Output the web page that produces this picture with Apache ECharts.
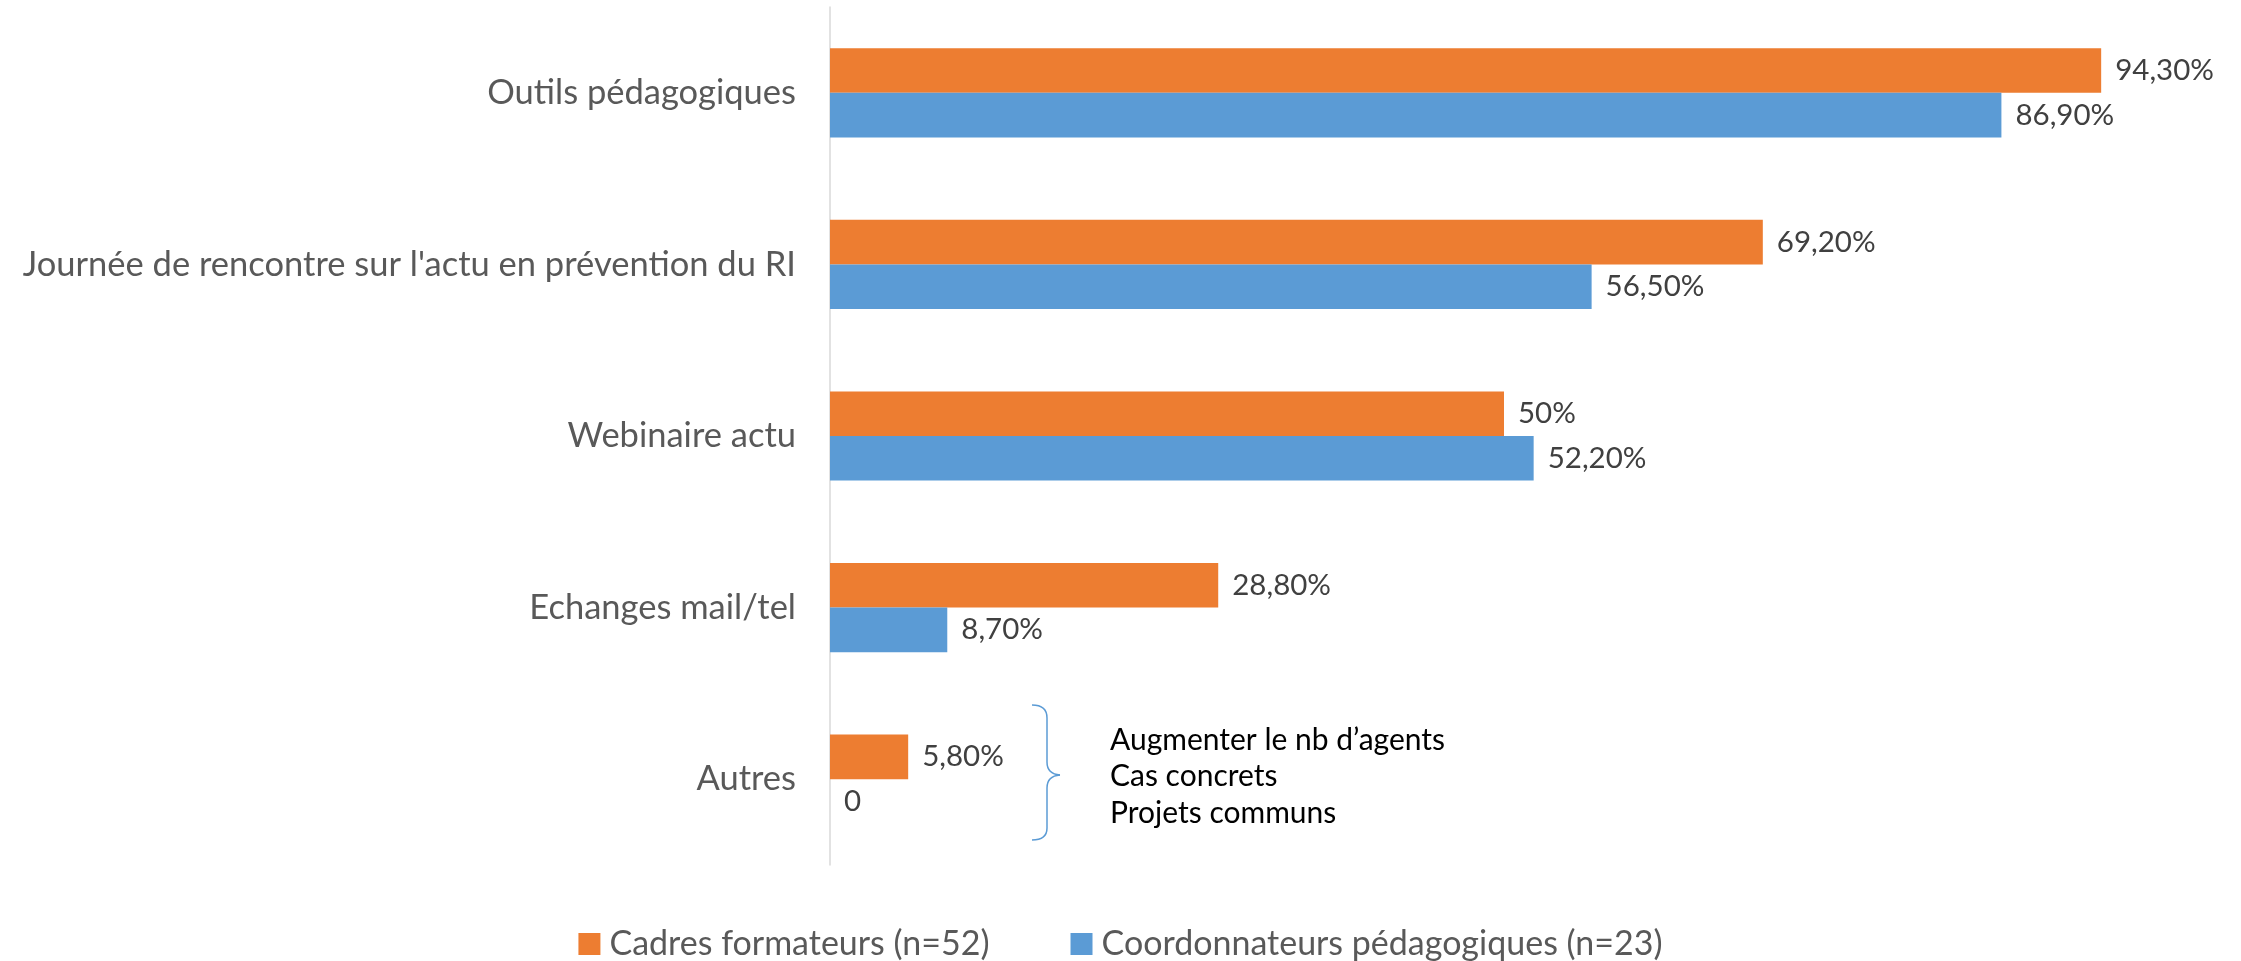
<!DOCTYPE html>
<html>
<head>
<meta charset="utf-8">
<script src="https://cdn.jsdelivr.net/npm/echarts@6/dist/echarts.min.js"></script>
<style>
  html, body { margin: 0; padding: 0; background: #fff; }
  #bar_chart { width: 2241px; height: 961px; }
</style>
</head>
<body>
<div id="bar_chart"></div>
<script>
// catégories (de haut en bas)
const categories = [
  'Outils pédagogiques',
  "Journée de rencontre sur l'actu en prévention du RI",
  'Webinaire actu',
  'Echanges mail/tel',
  'Autres'
];
// valeurs en %
const cadresValues = [94.3, 69.2, 50, 28.8, 5.8];
const coordoValues = [86.9, 56.5, 52.2, 8.7, 0];
const seriesNames = ['Cadres formateurs (n=52)', 'Coordonnateurs pédagogiques (n=23)'];
// note à côté de "Autres"
const autresNotes = ['Augmenter le nb d’agents', 'Cas concrets', 'Projets communs'];

const FONT = 'Lato';

// 94.3 -> "94,30%", 50 -> "50%", 0 -> "0"
function fmt(v) {
  if (v === 0) return '0';
  if (Number.isInteger(v)) return v + '%';
  return v.toFixed(2).replace('.', ',') + '%';
}

const chart = echarts.init(document.getElementById('bar_chart'));

function makeSeries(name, data, color) {
  return {
    name: name,
    type: 'bar',
    data: data,
    barGap: '0%',
    barCategoryGap: '48%',
    itemStyle: { color: color },
    label: {
      show: true,
      position: 'right',
      distance: 14,
      color: '#404040',
      fontFamily: FONT,
      fontSize: 29.5,
      formatter: p => fmt(p.value)
    }
  };
}

// accolade "}" en morceaux
const braceStyle = { fill: null, stroke: '#5b9bd5', lineWidth: 1.5 };
function curve(x1, y1, cx, cy, x2, y2) {
  return { type: 'bezierCurve', shape: { x1, y1, cpx1: cx, cpy1: cy, x2, y2 }, style: braceStyle };
}
function seg(x1, y1, x2, y2) {
  return { type: 'line', shape: { x1, y1, x2, y2 }, style: braceStyle };
}

const option = {
  animation: false,
  textStyle: { fontFamily: FONT },
  legend: {
    data: seriesNames,
    top: 922,
    left: 'center',
    icon: 'rect',
    itemWidth: 22,
    itemHeight: 22,
    itemGap: 81,
    textStyle: { color: '#595959', fontSize: 34, fontFamily: FONT, padding: [0, 0, 0, 4] }
  },
  grid: {
    left: 830,
    right: 63,
    top: 7,
    bottom: 96,
    containLabel: false
  },
  xAxis: {
    type: 'value',
    min: 0,
    max: 100,
    show: false,
    splitLine: { show: false }
  },
  yAxis: {
    type: 'category',
    inverse: true,
    data: categories,
    axisLine: { show: true, lineStyle: { color: '#d9d9d9', width: 1.5 } },
    axisTick: { show: false },
    axisLabel: {
      margin: 34,
      color: '#595959',
      fontSize: 34.5,
      fontFamily: FONT
    }
  },
  graphic: [
    curve(1032, 705, 1047, 705, 1047, 718),
    seg(1047, 718, 1047, 762),
    curve(1047, 762, 1047, 774, 1060, 775),
    curve(1060, 775, 1047, 776, 1047, 788),
    seg(1047, 788, 1047, 828),
    curve(1047, 828, 1047, 840, 1032, 840),
    {
      type: 'text',
      left: 1110,
      top: 722,
      style: {
        text: autresNotes.join('\n'),
        fill: '#000',
        fontFamily: FONT,
        fontSize: 30,
        lineHeight: 36.5
      }
    }
  ],
  series: [
    makeSeries(seriesNames[0], cadresValues, '#ed7d31'),
    makeSeries(seriesNames[1], coordoValues, '#5b9bd5')
  ]
};

chart.setOption(option);
</script>
</body>
</html>
